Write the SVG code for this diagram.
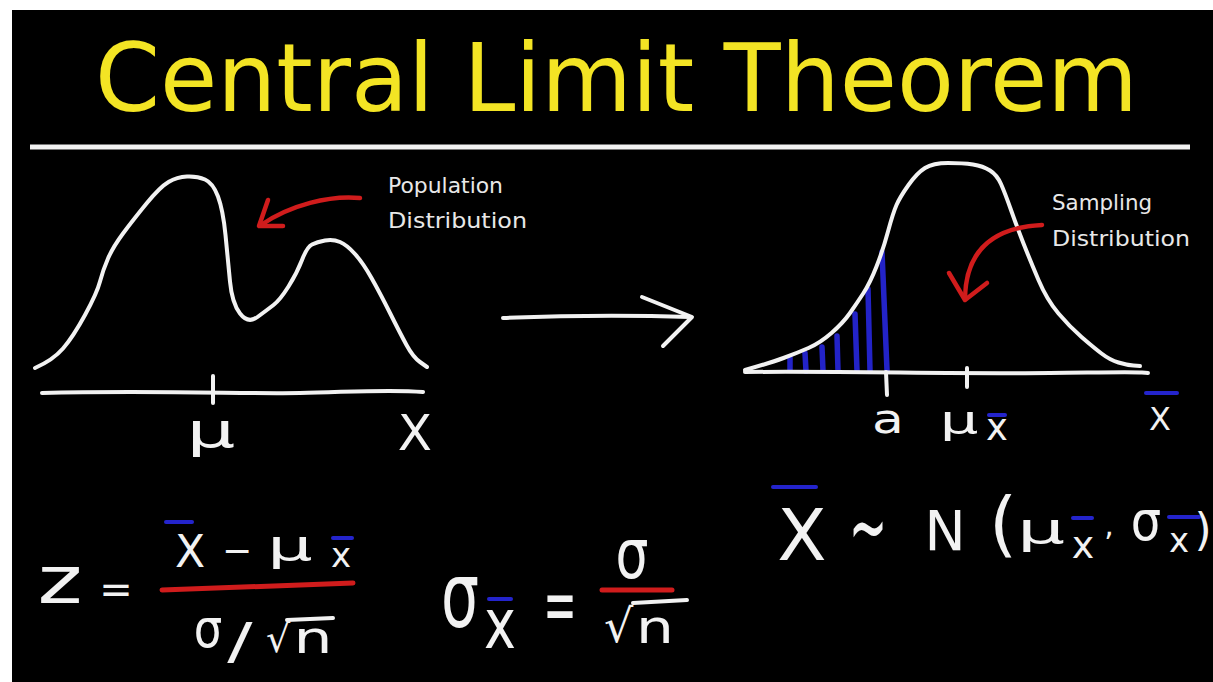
<svg xmlns="http://www.w3.org/2000/svg" width="1213" height="682" viewBox="0 0 1213 682">
<defs>
<style>
.ink{fill:none;stroke:#f2f2f2;stroke-width:4;stroke-linecap:round;stroke-linejoin:round}
.red{fill:none;stroke:#d01c1c;stroke-width:4.5;stroke-linecap:round;stroke-linejoin:round}
.hatch{fill:none;stroke:#2323c8;stroke-width:5.5;stroke-linecap:round}
.bar{stroke:#2424cc;stroke-width:4;stroke-linecap:round}
.m{font-family:"DejaVu Sans","Liberation Sans",sans-serif;fill:#f2f2f2;text-anchor:middle}
.ms{font-family:"DejaVu Sans","Liberation Sans",sans-serif;fill:#f2f2f2}
.lbl{font-family:"DejaVu Sans","Liberation Sans",sans-serif;fill:#e8e8e8;font-size:21px}
</style>
</defs>
<rect x="0" y="0" width="1213" height="682" fill="#ffffff"/>
<rect x="12" y="10" width="1201" height="672" fill="#000000"/>

<g id="title">
<text x="95" y="111" font-size="94" textLength="1043" lengthAdjust="spacingAndGlyphs" fill="#f3e424" font-family="DejaVu Sans, sans-serif">Central Limit Theorem</text>
<line x1="30" y1="147" x2="1190" y2="147" stroke="#f2f2f2" stroke-width="5"/>
</g>

<g id="population-plot">
<path class="ink" d="M35,368 Q53,360 63,348.5 Q73,337 85,315 Q97,293 100,281.5 Q103,270 108,258.5 Q113,247 123,233.5 Q133,220 146.5,203.5 Q160,187 168.5,182 Q177,177 187,176.5 Q197,176 205,179.5 Q213,183 218,196.5 Q223,210 225.5,235 Q228,260 230,281.5 Q232,303 240,313.5 Q248,324 257.5,317 Q267,310 273.5,305 Q280,300 288.5,286.5 Q297,273 302,260 Q307,247 312,244.5 Q317,242 325,240.5 Q333,239 340,242 Q347,245 355,254 Q363,263 371.5,278 Q380,293 390,313 Q400,333 406.5,345 Q413,357 420,362 L427,367"/>
<path class="ink" d="M42,393 C150,390 250,394 300,393 S390,389 423,392"/>
<path class="ink" d="M213,376 L213,403"/>
<text class="m" font-size="48" transform="translate(211,447) scale(1.6,1)">μ</text>
<text class="m" font-size="50" x="415" y="450">X</text>
<text class="lbl" x="388" y="193" textLength="115" lengthAdjust="spacingAndGlyphs">Population</text>
<text class="lbl" x="388" y="228" textLength="139" lengthAdjust="spacingAndGlyphs">Distribution</text>
</g>

<g id="sampling-plot">
<g id="shading">
<path class="hatch" d="M790,358 L790,370 M805,353 L806,371 M822,347 L823,371 M837,336 L838,371 M855,314 L857,371 M868,289 L870,371 M882,252 L887,370"/>
</g>
<path class="ink" d="M745,370 Q770,363 783.5,358 Q797,353 808.5,348 Q820,343 831.5,333 Q843,323 850,313 Q857,303 863.5,293 Q870,283 876.5,266.5 Q883,250 888,231.5 Q893,213 896.5,205 Q900,197 908.5,185 Q917,173 925,168 Q933,163 948,163 Q963,163 973,164.5 Q983,166 990,170.5 Q997,175 1001,184 Q1005,193 1011,210 Q1017,227 1023.5,243.5 Q1030,260 1038.5,280 Q1047,300 1058.5,313.5 Q1070,327 1081.5,337 Q1093,347 1101.5,353.5 Q1110,360 1118.5,362.5 Q1127,365 1133.5,365.5 L1140,366"/>
<path class="ink" d="M745,372 C850,371 950,374 1050,373 S1130,372 1148,373"/>
<path class="ink" d="M886,372 L887,395 M967,368 L967,387"/>
<text class="m" font-size="40" transform="translate(888,433) scale(1.3,1)">a</text>
<text class="m" font-size="38" transform="translate(959,433) scale(1.6,1)">μ</text>
<text class="m" font-size="37" x="997" y="440">x</text>
<line class="bar" x1="989" y1="415" x2="1005" y2="415"/>
<text class="m" font-size="32" x="1160" y="430">X</text>
<line class="bar" x1="1146" y1="393" x2="1177" y2="393"/>
<text class="lbl" x="1052" y="210" textLength="100" lengthAdjust="spacingAndGlyphs">Sampling</text>
<text class="lbl" x="1052" y="246" textLength="138" lengthAdjust="spacingAndGlyphs">Distribution</text>
</g>

<g id="connectors">
<path class="ink" d="M503,318 Q600,314 690,317"/>
<path class="ink" d="M642,297 L692,317 L663,346"/>
<path class="red" d="M360,198 C330,195 290,205 261,225"/>
<path class="red" d="M268,200 L259,226 L283,226"/>
<path class="red" d="M1042,225 C1000,227 966,245 965,298"/>
<path class="red" d="M949,273 L965,300 L987,283"/>
</g>

<g id="z-formula">
<text class="m" font-size="66" transform="translate(60,603) scale(1.3,1)">z</text>
<text class="m" font-size="40" x="116" y="603">=</text>
<text class="m" font-size="44" x="190" y="567">X</text>
<line class="bar" x1="166" y1="522" x2="192" y2="522"/>
<text class="m" font-size="36" x="237" y="563">−</text>
<text class="m" font-size="42" transform="translate(290,560) scale(1.7,1)">μ</text>
<text class="m" font-size="34" x="341" y="567">x</text>
<line class="bar" x1="333" y1="538" x2="352" y2="538"/>
<line x1="162" y1="590" x2="353" y2="583" stroke="#d01c1c" stroke-width="5" stroke-linecap="round"/>
<text class="m" font-size="45" transform="translate(208,647) scale(1,1.2)">σ</text>
<text class="m" font-size="50" transform="translate(240,658) scale(1.5,1)">/</text>
<text class="ms" font-size="38" x="266" y="652">√</text>
<line x1="287" y1="620" x2="333" y2="618" stroke="#f2f2f2" stroke-width="4" stroke-linecap="round"/>
<text class="m" font-size="44" transform="translate(313,653) scale(1.4,1)">n</text>
</g>

<g id="sigma-formula">
<text class="m" font-size="60" transform="translate(460,627) scale(1,1.5)">σ</text>
<text class="m" font-size="54" transform="translate(500,648) scale(1,1.3)">x</text>
<line class="bar" x1="489" y1="599" x2="511" y2="599"/>
<text class="m" font-size="40" transform="translate(560,632) scale(1,2)">=</text>
<text class="m" font-size="52" transform="translate(632,578) scale(1,1.35)">σ</text>
<line x1="602" y1="590" x2="672" y2="590" stroke="#d01c1c" stroke-width="5" stroke-linecap="round"/>
<text class="ms" font-size="46" x="604" y="642">√</text>
<line x1="633" y1="603" x2="687" y2="600" stroke="#f2f2f2" stroke-width="4" stroke-linecap="round"/>
<text class="m" font-size="46" transform="translate(655,643) scale(1.3,1)">n</text>
</g>

<g id="distribution-formula">
<text class="m" font-size="72" x="802" y="560">X</text>
<line class="bar" x1="773" y1="487" x2="816" y2="487"/>
<text class="m" font-size="46" transform="translate(868,558) scale(1,2)">~</text>
<text class="m" font-size="55" x="945" y="550">N</text>
<text class="m" font-size="72" x="1003" y="548">(</text>
<text class="m" font-size="42" transform="translate(1041,543) scale(1.8,1)">μ</text>
<text class="m" font-size="38" x="1083" y="558">x</text>
<line class="bar" x1="1073" y1="518" x2="1092" y2="518"/>
<text class="m" font-size="30" x="1109" y="535">,</text>
<text class="m" font-size="48" transform="translate(1146,540) scale(1,1.15)">σ</text>
<text class="m" font-size="34" x="1179" y="552">x</text>
<line class="bar" x1="1169" y1="517" x2="1199" y2="517"/>
<text class="m" font-size="44" x="1203" y="545">)</text>
</g>
</svg>
